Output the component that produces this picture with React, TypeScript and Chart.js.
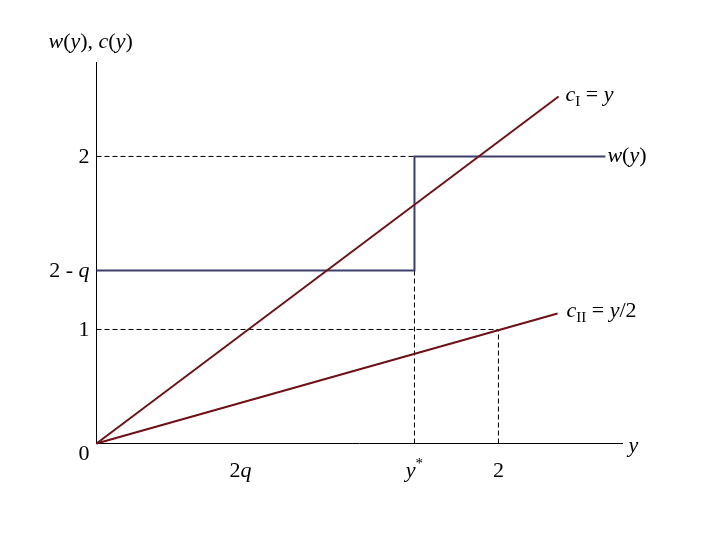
import React, { useEffect, useRef } from "react";
import { Chart, registerables } from "chart.js";

Chart.register(...registerables);

// Drawing units (schematic): x in y-units, vertical in c-units
const xMax = 2.622;
const yMax = 3.342;

const xTickValues = [0.716, 1.582, 2];
const xTickLabels = ["2q", "y*", "2"];
const yTickValues = [0, 1, 1.518, 2.518];
const yTickLabels = ["0", "1", "2 - q", "2"];

const wX = [0, 1.582, 1.582, 2.532];
const wY = [1.518, 1.518, 2.518, 2.518];
const cIX = [0, 2.299];
const cIY = [0, 3.044];
const cIIX = [0, 2.294];
const cIIY = [0, 1.14];

const guide2X = [0, 1.582];
const guide2Y = [2.518, 2.518];
const guide1X = [0, 2];
const guide1Y = [1, 1];
const guideYStarX = [1.582, 1.582];
const guideYStarY = [0, 1.518];
const guideX2X = [2, 2];
const guideX2Y = [0, 1];

const zip = (xs: number[], ys: number[]) => xs.map((x, i) => ({ x, y: ys[i] }));

const FONT = '"Liberation Serif", "DejaVu Serif", serif';
const SIZE = 22;

type Run = { t: string; it?: boolean; sub?: boolean; sup?: boolean };

function measureRuns(ctx: CanvasRenderingContext2D, runs: Run[]) {
  let w = 0;
  for (const r of runs) {
    const s = r.sub || r.sup ? Math.round(SIZE * 0.7) : SIZE;
    ctx.font = `${r.it ? "italic " : ""}${s}px ${FONT}`;
    w += ctx.measureText(r.t).width;
  }
  return w;
}

function drawRuns(
  ctx: CanvasRenderingContext2D,
  runs: Run[],
  x: number,
  y: number,
  align: "left" | "center" | "right" = "left"
) {
  const total = measureRuns(ctx, runs);
  let cx = align === "left" ? x : align === "center" ? x - total / 2 : x - total;
  ctx.textAlign = "left";
  ctx.textBaseline = "alphabetic";
  ctx.fillStyle = "#000";
  for (const r of runs) {
    const s = r.sub || r.sup ? Math.round(SIZE * 0.7) : SIZE;
    ctx.font = `${r.it ? "italic " : ""}${s}px ${FONT}`;
    const dy = r.sub ? 5 : r.sup ? -9 : 0;
    ctx.fillText(r.t, cx, y + dy);
    cx += ctx.measureText(r.t).width;
  }
}

function labelRuns(label: string): Run[] {
  if (label === "2q") return [{ t: "2" }, { t: "q", it: true }];
  if (label === "y*") return [{ t: "y", it: true }, { t: "*", sup: true }];
  if (label === "2 - q") return [{ t: "2 - " }, { t: "q", it: true }];
  return [{ t: label }];
}

const annotPlugin = {
  id: "annot",
  beforeDatasetsDraw(chart: any) {
    const { ctx, chartArea } = chart;
    const { left, right, top, bottom } = chartArea;
    ctx.save();
    ctx.strokeStyle = "#000";
    ctx.lineWidth = 1;
    ctx.beginPath();
    ctx.moveTo(Math.floor(left) + 0.5, Math.floor(top));
    ctx.lineTo(Math.floor(left) + 0.5, Math.floor(bottom) + 1);
    ctx.moveTo(Math.floor(left), Math.floor(bottom) + 0.5);
    ctx.lineTo(Math.floor(right), Math.floor(bottom) + 0.5);
    ctx.stroke();
    ctx.restore();
  },
  afterDatasetsDraw(chart: any) {
    const { ctx, chartArea } = chart;
    const xs = chart.scales.x;
    const ys = chart.scales.y;
    ctx.save();
    // y tick labels
    yTickValues.forEach((v, i) => {
      const py = ys.getPixelForValue(v);
      const off = v === 0 ? 16 : 7;
      drawRuns(ctx, labelRuns(yTickLabels[i]), chartArea.left - 7, py + off, "right");
    });
    // x tick labels
    xTickValues.forEach((v, i) => {
      const px = xs.getPixelForValue(v);
      drawRuns(ctx, labelRuns(xTickLabels[i]), px, chartArea.bottom + 33, "center");
    });
    // axis titles
    drawRuns(
      ctx,
      [
        { t: "w", it: true },
        { t: "(" },
        { t: "y", it: true },
        { t: "), " },
        { t: "c", it: true },
        { t: "(" },
        { t: "y", it: true },
        { t: ")" },
      ],
      chartArea.left - 48,
      chartArea.top - 15
    );
    drawRuns(ctx, [{ t: "y", it: true }], chartArea.right + 5, chartArea.bottom + 8);
    // line labels
    const cIEnd = { x: xs.getPixelForValue(cIX[1]), y: ys.getPixelForValue(cIY[1]) };
    drawRuns(
      ctx,
      [{ t: "c", it: true }, { t: "I", sub: true }, { t: " = " }, { t: "y", it: true }],
      cIEnd.x + 7,
      cIEnd.y + 5
    );
    const wEnd = { x: xs.getPixelForValue(wX[3]), y: ys.getPixelForValue(wY[3]) };
    drawRuns(
      ctx,
      [{ t: "w", it: true }, { t: "(" }, { t: "y", it: true }, { t: ")" }],
      wEnd.x + 2,
      wEnd.y + 6
    );
    const cIIEnd = { x: xs.getPixelForValue(cIIX[1]), y: ys.getPixelForValue(cIIY[1]) };
    drawRuns(
      ctx,
      [{ t: "c", it: true }, { t: "II", sub: true }, { t: " = " }, { t: "y", it: true }, { t: "/2" }],
      cIIEnd.x + 9,
      cIIEnd.y + 3
    );
    ctx.restore();
  },
};

const RED = "#6e1016";
const NAVY = "#3e3e6c";

export default function App() {
  const ref = useRef<HTMLCanvasElement | null>(null);
  useEffect(() => {
    if (!ref.current) return;
    const dashed = (data: { x: number; y: number }[]) => ({
      data,
      borderColor: "#000",
      borderWidth: 1,
      borderDash: [5, 3],
      showLine: true,
      pointRadius: 0,
      clip: false,
      order: 5,
    });
    const chart = new Chart(ref.current, {
      type: "scatter",
      data: {
        datasets: [
          { data: zip(cIX, cIY), borderColor: RED, borderWidth: 2, showLine: true, pointRadius: 0, clip: false, order: 1 },
          { data: zip(cIIX, cIIY), borderColor: RED, borderWidth: 2, showLine: true, pointRadius: 0, clip: false, order: 1 },
          { data: zip(wX, wY), borderColor: NAVY, borderWidth: 2, showLine: true, pointRadius: 0, clip: false, order: 2 },
          dashed(zip(guide2X, guide2Y)),
          dashed(zip(guide1X, guide1Y)),
          dashed(zip(guideYStarX, guideYStarY)),
          dashed(zip(guideX2X, guideX2Y)),
        ] as any,
      },
      options: {
        responsive: false,
        animation: false,
        devicePixelRatio: 1,
        layout: { padding: { left: 96.5, top: 62.5, right: 96.5, bottom: 96.5 } },
        plugins: { legend: { display: false }, tooltip: { enabled: false } },
        scales: {
          x: { type: "linear", min: 0, max: xMax, display: false },
          y: { type: "linear", min: 0, max: yMax, display: false },
        },
      },
      plugins: [annotPlugin],
    });
    return () => chart.destroy();
  }, []);
  return (
    <div style={{ position: "fixed", left: 0, top: 0, width: 720, height: 540, background: "#fff" }}>
      <canvas ref={ref} width={720} height={540} style={{ width: 720, height: 540 }} />
    </div>
  );
}
